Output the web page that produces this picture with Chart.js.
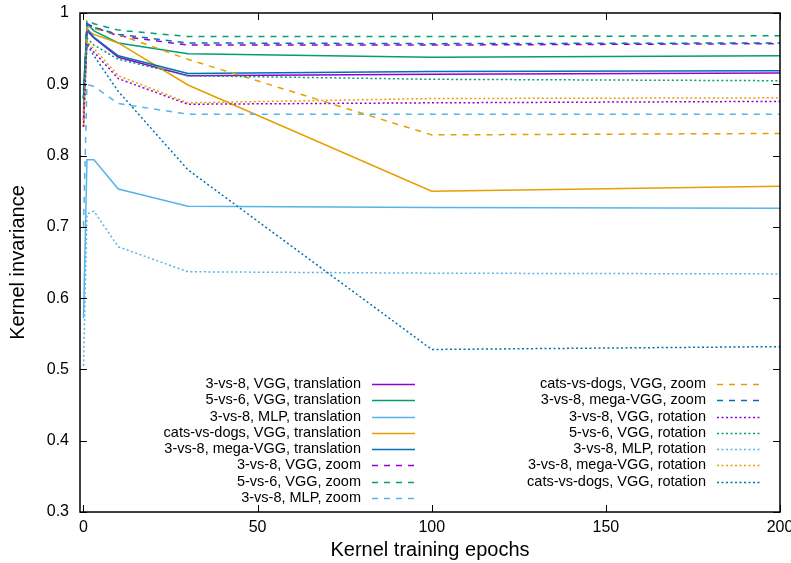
<!DOCTYPE html>
<html>
<head>
<meta charset="utf-8">
<script src="https://cdn.jsdelivr.net/npm/chart.js@4.4.1/dist/chart.umd.min.js"></script>
<style>
  html, body { margin: 0; padding: 0; background: #fff; }
  #wrap { width: 791px; height: 563px; }
</style>
</head>
<body>
<div id="wrap"><canvas id="c" width="791" height="563"></canvas></div>
<script>
// ---- data ----
const epochs = [0, 1, 3, 10, 30, 100, 200];
const xTicks = [0, 50, 100, 150, 200];
const yTicks = [0.3, 0.4, 0.5, 0.6, 0.7, 0.8, 0.9, 1];

const seriesNames = [
  "3-vs-8, VGG, translation",
  "5-vs-6, VGG, translation",
  "3-vs-8, MLP, translation",
  "cats-vs-dogs, VGG, translation",
  "3-vs-8, mega-VGG, translation",
  "3-vs-8, VGG, zoom",
  "5-vs-6, VGG, zoom",
  "3-vs-8, MLP, zoom",
  "cats-vs-dogs, VGG, zoom",
  "3-vs-8, mega-VGG, zoom",
  "3-vs-8, VGG, rotation",
  "5-vs-6, VGG, rotation",
  "3-vs-8, MLP, rotation",
  "3-vs-8, mega-VGG, rotation",
  "cats-vs-dogs, VGG, rotation"
];

const vgg38Translation   = [0.86, 0.975, 0.965, 0.938, 0.912, 0.914, 0.916];
const vgg56Translation   = [0.88, 0.985, 0.975, 0.958, 0.943, 0.938, 0.940];
const mlp38Translation   = [0.572, 0.794, 0.794, 0.753, 0.729, 0.727, 0.726];
const catsTranslation    = [0.84, 0.975, 0.970, 0.958, 0.899, 0.750, 0.757];
const mega38Translation  = [0.89, 0.978, 0.966, 0.940, 0.915, 0.918, 0.919];
const vgg38Zoom          = [0.85, 0.985, 0.980, 0.968, 0.955, 0.955, 0.957];
const vgg56Zoom          = [0.88, 0.990, 0.985, 0.976, 0.967, 0.967, 0.968];
const mlp38Zoom          = [0.70, 0.900, 0.897, 0.873, 0.858, 0.858, 0.858];
const catsZoom           = [0.84, 0.980, 0.978, 0.970, 0.935, 0.829, 0.831];
const mega38Zoom         = [0.88, 0.985, 0.980, 0.970, 0.958, 0.957, 0.958];
const vgg38Rotation      = [0.84, 0.958, 0.945, 0.908, 0.872, 0.874, 0.876];
const vgg56Rotation      = [0.87, 0.965, 0.955, 0.935, 0.912, 0.907, 0.905];
const mlp38Rotation      = [0.505, 0.718, 0.722, 0.672, 0.637, 0.635, 0.634];
const mega38Rotation     = [0.85, 0.960, 0.950, 0.912, 0.874, 0.880, 0.881];
const catsRotation       = [0.88, 0.955, 0.940, 0.890, 0.780, 0.528, 0.532];

const seriesValues = [
  vgg38Translation, vgg56Translation, mlp38Translation, catsTranslation, mega38Translation,
  vgg38Zoom, vgg56Zoom, mlp38Zoom, catsZoom, mega38Zoom,
  vgg38Rotation, vgg56Rotation, mlp38Rotation, mega38Rotation, catsRotation
];

// ---- styles ----
const PURPLE = "#9400d3", GREEN = "#009e73", LBLUE = "#56b4e9", ORANGE = "#e69f00", BLUE = "#0072b2";
const seriesColors = [PURPLE, GREEN, LBLUE, ORANGE, BLUE,
                      PURPLE, GREEN, LBLUE, ORANGE, BLUE,
                      PURPLE, GREEN, LBLUE, ORANGE, BLUE];
const SOLID = [], DASH = [6, 6], DOT = [2, 2.5];
const seriesDash = [SOLID, SOLID, SOLID, SOLID, SOLID,
                    DASH, DASH, DASH, DASH, DASH,
                    DOT, DOT, DOT, DOT, DOT];

const FONT = "'Liberation Sans', Arial, sans-serif";
const TICK_SIZE = 16, TITLE_SIZE = 20, LEGEND_SIZE = 14.5;

const datasets = seriesNames.map((name, i) => ({
  label: name,
  data: epochs.map((e, j) => ({ x: e, y: seriesValues[i][j] })),
  borderColor: seriesColors[i],
  backgroundColor: seriesColors[i],
  borderDash: seriesDash[i],
  borderWidth: 1.5,
  pointRadius: 0,
  tension: 0,
  fill: false,
  order: seriesNames.length - i
}));

// frame ticks (inward, mirrored) + legend
const gnuplotDeco = {
  id: "gnuplotDeco",
  afterDatasetsDraw(chart) {
    const ctx = chart.ctx;
    const a = chart.chartArea;
    const xs = chart.scales.x, ys = chart.scales.y;
    ctx.save();
    ctx.strokeStyle = "#000";
    ctx.lineWidth = 1;
    ctx.setLineDash([]);
    const tl = 7;
    xTicks.forEach(v => {
      const px = Math.round(xs.getPixelForValue(v)) + 0.5;
      ctx.beginPath();
      ctx.moveTo(px, a.bottom); ctx.lineTo(px, a.bottom - tl);
      ctx.moveTo(px, a.top); ctx.lineTo(px, a.top + tl);
      ctx.stroke();
    });
    yTicks.forEach(v => {
      const py = Math.round(ys.getPixelForValue(v)) + 0.5;
      ctx.beginPath();
      ctx.moveTo(a.left, py); ctx.lineTo(a.left + tl, py);
      ctx.moveTo(a.right, py); ctx.lineTo(a.right - tl, py);
      ctx.stroke();
    });
    ctx.lineWidth = 1.5;
    ctx.strokeRect(a.left, a.top, a.right - a.left, a.bottom - a.top);

    // legend
    ctx.font = LEGEND_SIZE + "px " + FONT;
    ctx.fillStyle = "#000";
    ctx.textAlign = "right";
    ctx.textBaseline = "middle";
    chart.data.datasets.forEach((ds, i) => {
      const col = i < 8 ? 0 : 1;
      const row = i < 8 ? i : i - 8;
      const y = 384 + row * 16.25;
      const textRight = col === 0 ? 361 : 706;
      const s0 = col === 0 ? 372 : 717;
      ctx.fillText(ds.label, textRight, y);
      ctx.beginPath();
      ctx.strokeStyle = ds.borderColor;
      ctx.lineWidth = ds.borderWidth;
      ctx.setLineDash(ds.borderDash);
      ctx.moveTo(s0, Math.round(y) + 0.5);
      ctx.lineTo(s0 + 43, Math.round(y) + 0.5);
      ctx.stroke();
    });
    ctx.restore();
  }
};

new Chart(document.getElementById("c"), {
  type: "line",
  data: { datasets },
  options: {
    responsive: false,
    animation: false,
    events: [],
    layout: { padding: { left: 6, right: 11, top: 13, bottom: 0 } },
    plugins: { legend: { display: false }, tooltip: { enabled: false } },
    scales: {
      x: {
        type: "linear",
        min: -1, max: 200,
        afterBuildTicks: s => { s.ticks = xTicks.map(v => ({ value: v })); },
        afterFit: s => { s.height = 51; s.paddingLeft = 0; s.paddingRight = 0; },
        grid: { display: false, drawTicks: false },
        border: { display: false },
        ticks: { color: "#000", font: { family: FONT, size: TICK_SIZE }, padding: 6, maxRotation: 0 },
        title: { display: true, text: "Kernel training epochs", color: "#000",
                 font: { family: FONT, size: TITLE_SIZE }, padding: { top: 0, bottom: 1 } }
      },
      y: {
        type: "linear",
        min: 0.3, max: 1,
        afterBuildTicks: s => { s.ticks = yTicks.map(v => ({ value: v })); },
        afterFit: s => { s.width = 74; s.paddingTop = 0; s.paddingBottom = 0; },
        grid: { display: false, drawTicks: false },
        border: { display: false },
        ticks: { color: "#000", font: { family: FONT, size: TICK_SIZE }, padding: 11,
                 callback: v => String(Math.round(v * 10) / 10) },
        title: { display: true, text: "Kernel invariance", color: "#000",
                 font: { family: FONT, size: TITLE_SIZE }, padding: { top: 0, bottom: 0 } }
      }
    }
  },
  plugins: [gnuplotDeco]
});
</script>
</body>
</html>
